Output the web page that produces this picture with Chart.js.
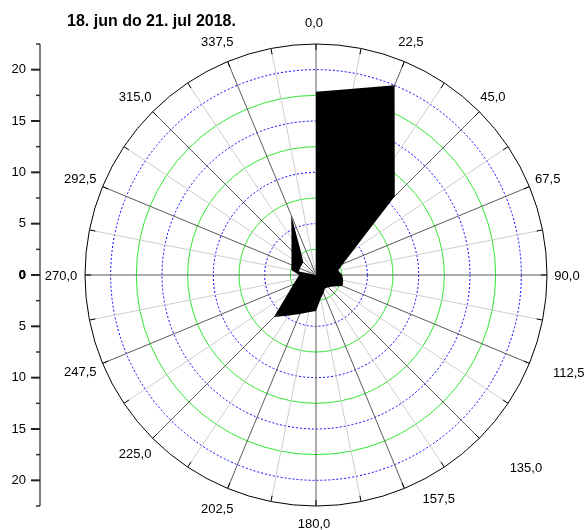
<!DOCTYPE html>
<html>
<head>
<meta charset="utf-8">
<title>18. jun do 21. jul 2018.</title>
<script src="https://cdn.jsdelivr.net/npm/chart.js@4.4.1/dist/chart.umd.min.js"></script>
<style>
  html, body { margin: 0; padding: 0; background: #fff; }
  #wrap { position: relative; width: 584px; height: 530px; }
  #title {
    position: absolute; left: 67px; top: 13px; margin: 0;
    font: bold 16px "Liberation Sans", Arial, sans-serif; line-height: 16px; color: #000;
  }
</style>
</head>
<body>
<div id="wrap">
  <canvas id="rose" width="584" height="530"></canvas>
  <h1 id="title">18. jun do 21. jul 2018.</h1>
</div>
<script>
// labelled directions, one every 22,5 degrees
const directionLabels = ['0,0', '22,5', '45,0', '67,5', '90,0', '112,5', '135,0', '157,5',
                         '180,0', '202,5', '225,0', '247,5', '270,0', '292,5', '315,0', '337,5'];

// outline of the filled rose read on 32 rays (every 11,25 deg), clockwise from 0
const outerEdge = [17.85, 18.5, 20.0, 13.8, 10.85, 4.4, 2.85, 2.2,
                   2.55, 2.7, 2.8, 2.0, 1.68, 1.57, 1.9, 2.35,
                   3.5, 3.7, 4.1, 4.75, 5.8, 3.3, 2.4, 1.9,
                   1.65, 2.44, 2.59, 2.87, 3.38, 4.3, 6.3, 0];

// empty pocket near the centre (north-west side), cut out of the outline
const innerEdge = [0, 0, 0, 0, 0, 0, 0, 0,
                   0, 0, 0, 0, 0, 0, 0, 0,
                   0, 0, 0, 0, 0, 0, 0, 0,
                   0, 1.7, 1.7, 1.7, 1.75, 2.6, 6.3, 0];

const radialMax = 22.5;
const gridStep = 2.5;
const axisMajor = [0, 5, 10, 15, 20];
const axisMinor = [2.5, 7.5, 12.5, 17.5, 22.5];

// 32 spokes: labelled ones plus an unlabelled one in between
const spokeLabels = [];
directionLabels.forEach(label => {
    spokeLabels.push(label);
    spokeLabels.push('');
});

const FONT = '"Liberation Sans", Arial, sans-serif';

// a few labels sit further out in the original layout
const labelNudge = {
    '112,5': [21, 1],
    '135,0': [33, 14],
    '157,5': [28, -10],
    '180,0': [0, -5]
};

/**
 * Extra drawing: ring ticks, direction labels and the left radius axis
 */
const roseDecor = {
    id: 'roseDecor',
    afterDraw(chart) {
        const r = chart.scales.r;
        const ctx = chart.ctx;
        const R = r.drawingArea;

        ctx.save();

        // short ticks on the outer ring
        ctx.strokeStyle = '#000';
        ctx.lineWidth = 1;
        for (let i = 0; i < spokeLabels.length; i++) {
            const a = r.getPointPosition(i, R - 6);
            const b = r.getPointPosition(i, R);
            ctx.beginPath();
            ctx.moveTo(a.x, a.y);
            ctx.lineTo(b.x, b.y);
            ctx.stroke();
        }

        // direction labels
        ctx.font = '13px ' + FONT;
        ctx.fillStyle = '#000';
        ctx.textAlign = 'center';
        ctx.textBaseline = 'middle';
        spokeLabels.forEach((txt, i) => {
            if (!txt) return;
            const p = r.getPointPosition(i, R + 22);
            const n = labelNudge[txt] || [0, 0];
            ctx.fillText(txt, p.x - 2 + n[0], p.y + 1 + n[1]);
        });

        // radius axis on the left, mirrored around the centre
        const axisX = 40;
        const span = r.getDistanceFromCenterForValue(radialMax);
        ctx.strokeStyle = '#808080';
        ctx.lineWidth = 2;
        ctx.beginPath();
        ctx.moveTo(axisX, r.yCenter - span);
        ctx.lineTo(axisX, r.yCenter + span);
        ctx.stroke();

        ctx.strokeStyle = '#333';
        ctx.lineWidth = 1.5;
        axisMinor.forEach(v => {
            const d = r.getDistanceFromCenterForValue(v);
            [-1, 1].forEach(s => {
                ctx.beginPath();
                ctx.moveTo(axisX - 4, r.yCenter + s * d);
                ctx.lineTo(axisX, r.yCenter + s * d);
                ctx.stroke();
            });
        });

        ctx.textAlign = 'right';
        axisMajor.forEach(v => {
            const d = r.getDistanceFromCenterForValue(v);
            [-1, 1].forEach(s => {
                const y = r.yCenter + s * d;
                ctx.strokeStyle = '#222';
                ctx.lineWidth = 2;
                ctx.beginPath();
                ctx.moveTo(axisX - 9, y);
                ctx.lineTo(axisX, y);
                ctx.stroke();
                ctx.font = (v === 0 ? 'bold ' : '') + '13px ' + FONT;
                ctx.fillText(String(v), 26, y);
            });
        });

        ctx.restore();
    }
};

function gridColor(context) {
    const v = context.tick.value;
    if (Math.abs(v - radialMax) < 1e-6) return '#000';
    return (Math.round(v / gridStep) % 2 === 0) ? '#0000ff' : '#33e633';
}

new Chart(document.getElementById('rose'), {
    type: 'radar',
    data: {
        labels: spokeLabels,
        datasets: [{
            data: outerEdge,
            fill: '+1',
            backgroundColor: '#000',
            borderWidth: 0,
            pointRadius: 0,
            tension: 0
        }, {
            data: innerEdge,
            fill: false,
            backgroundColor: 'rgba(0,0,0,0)',
            borderWidth: 0,
            pointRadius: 0,
            tension: 0
        }]
    },
    options: {
        responsive: false,
        animation: false,
        layout: { padding: { left: 85, right: 37, top: 44, bottom: 24 } },
        plugins: {
            legend: { display: false },
            tooltip: { enabled: false },
            title: { display: false }
        },
        scales: {
            r: {
                min: 0,
                max: radialMax,
                ticks: { display: false, stepSize: gridStep },
                pointLabels: { display: false },
                grid: {
                    circular: true,
                    color: gridColor,
                    lineWidth: 1
                },
                border: {
                    dash: context => {
                        const v = context.tick.value;
                        if (Math.abs(v - radialMax) < 1e-6) return [];
                        return (Math.round(v / gridStep) % 2 === 0) ? [2, 2] : [];
                    }
                },
                angleLines: {
                    color: context => (context.index % 2 === 0) ? '#5a5a5a' : '#cdcdcd',
                    lineWidth: 1
                }
            }
        }
    },
    plugins: [roseDecor]
});
</script>
</body>
</html>
